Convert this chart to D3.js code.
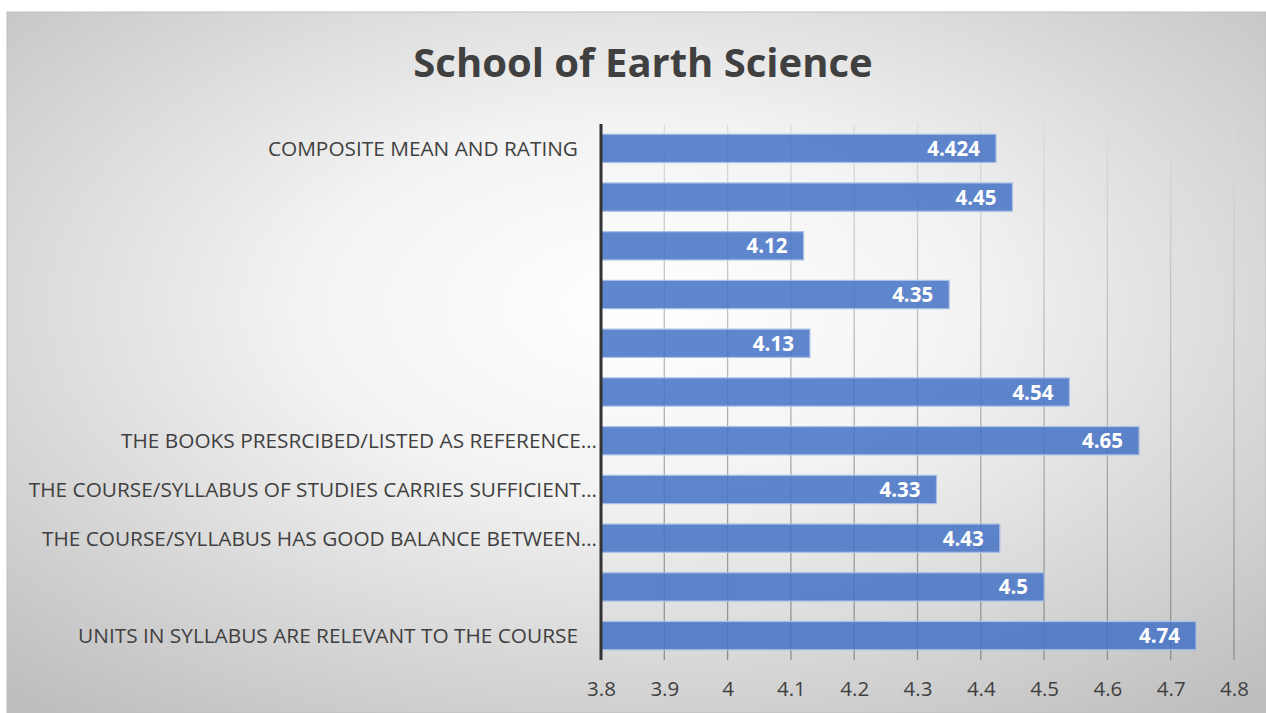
<!DOCTYPE html>
<html>
<head>
<meta charset="utf-8">
<script src="https://cdn.jsdelivr.net/npm/d3@7"></script>
<style>
  html, body { margin: 0; padding: 0; background: #fff; }
  svg { display: block; font-family: "Open Sans", sans-serif; }
</style>
</head>
<body>
<svg id="chart" width="1266" height="713"></svg>
<script>
// categories from top to bottom, as shown in the chart
let categories = [
    'COMPOSITE MEAN AND RATING',
    '',
    '',
    '',
    '',
    '',
    'THE BOOKS PRESRCIBED/LISTED AS REFERENCE\u2026',
    'THE COURSE/SYLLABUS OF STUDIES CARRIES SUFFICIENT\u2026',
    'THE COURSE/SYLLABUS HAS GOOD BALANCE BETWEEN\u2026',
    '',
    'UNITS IN SYLLABUS ARE RELEVANT TO THE COURSE'
];
let values = [4.424, 4.45, 4.12, 4.35, 4.13, 4.54, 4.65, 4.33, 4.43, 4.5, 4.74];
let xTicks = [3.8, 3.9, 4, 4.1, 4.2, 4.3, 4.4, 4.5, 4.6, 4.7, 4.8];
let title = 'School of Earth Science';

let svg = d3.select('#chart');
let W = 1266, H = 713;

// background with radial shading
let defs = svg.append('defs');
let rg = defs.append('radialGradient').attr('id', 'bg')
    .attr('cx', '50%').attr('cy', '42%').attr('r', '75%');
rg.append('stop').attr('offset', '0%').attr('stop-color', '#ffffff');
rg.append('stop').attr('offset', '35%').attr('stop-color', '#f3f3f3');
rg.append('stop').attr('offset', '100%').attr('stop-color', '#bdbdbd');

let plotLeft = 601, plotRight = 1234, plotTop = 124, plotBottom = 660;

let gg = defs.append('linearGradient').attr('id', 'grid')
    .attr('gradientUnits', 'userSpaceOnUse')
    .attr('x1', 0).attr('y1', plotTop).attr('x2', 0).attr('y2', plotBottom);
gg.append('stop').attr('offset', '0%').attr('stop-color', '#dcdcdc');
gg.append('stop').attr('offset', '100%').attr('stop-color', '#8c8c8c');

svg.append('rect').attr('x', 0).attr('y', 0).attr('width', W).attr('height', H).attr('fill', '#fff');
svg.append('rect')
    .attr('x', 7).attr('y', 12).attr('width', W - 7).attr('height', H - 12)
    .attr('fill', 'url(#bg)')
    .attr('stroke', '#bfbfbf').attr('stroke-width', 1);

svg.append('text')
    .attr('x', 643).attr('y', 77)
    .attr('text-anchor', 'middle')
    .attr('font-size', 40).attr('font-weight', 'bold')
    .attr('fill', '#404040')
    .text(title);

let xscale = d3.scaleLinear().domain([3.8, 4.8]).range([plotLeft, plotRight]);
let yscale = d3.scaleBand().domain(d3.range(categories.length)).range([plotTop, plotBottom]).paddingInner(0.42).paddingOuter(0.21);

// gridlines
svg.append('g').selectAll('line').data(xTicks.slice(1)).join('line')
    .attr('x1', d => xscale(d)).attr('x2', d => xscale(d))
    .attr('y1', plotTop).attr('y2', plotBottom)
    .attr('stroke', 'url(#grid)').attr('stroke-width', 1.3);

// bars
svg.append('g').selectAll('rect').data(values).join('rect')
    .attr('x', xscale(3.8))
    .attr('y', (d, i) => yscale(i))
    .attr('width', d => xscale(d) - xscale(3.8))
    .attr('height', yscale.bandwidth())
    .attr('fill', '#4472c4').attr('fill-opacity', 0.85)
    .attr('stroke', '#a9bfe6').attr('stroke-width', 1.2);

// value labels
svg.append('g').selectAll('text').data(values).join('text')
    .attr('x', d => xscale(d) - 16)
    .attr('y', (d, i) => yscale(i) + yscale.bandwidth() / 2 + 7.5)
    .attr('text-anchor', 'end')
    .attr('font-size', 20.5).attr('font-weight', 'bold')
    .attr('fill', '#fff')
    .text(d => d);

// category labels
svg.append('g').selectAll('text').data(categories).join('text')
    .attr('x', d => d.endsWith('\u2026') ? 597 : 578)
    .attr('y', (d, i) => yscale(i) + yscale.bandwidth() / 2 + 7.5)
    .attr('text-anchor', 'end')
    .attr('font-size', 20.8)
    .attr('fill', '#404040')
    .text(d => d);

// x axis
let xaxis = d3.axisBottom(xscale).tickValues(xTicks).tickFormat(d => d).tickSize(0).tickPadding(21);
let ax = svg.append('g').attr('transform', 'translate(0,' + plotBottom + ')').call(xaxis);
ax.select('.domain').remove();
ax.selectAll('text').attr('font-size', 20.5).attr('fill', '#404040').attr('font-family', '"Open Sans", sans-serif');

// vertical axis line
svg.append('line')
    .attr('x1', plotLeft).attr('x2', plotLeft).attr('y1', plotTop).attr('y2', plotBottom)
    .attr('stroke', '#333').attr('stroke-width', 3);
</script>
</body>
</html>
